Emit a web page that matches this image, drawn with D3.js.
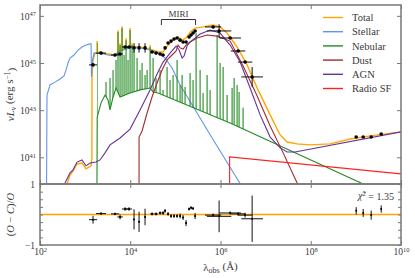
<!DOCTYPE html>
<html>
<head>
	<meta charset="UTF-8">
	<script src="https://d3js.org/d3.v7.min.js"></script>
	<style>
		body{ margin:0; background-color:#fff; }
		text{ font-family:"Liberation Serif","DejaVu Serif",serif; fill:#3a3a3a; }
	</style>
</head>
<body>
	<div class="chart"></div>
	<script type="text/javascript">
		// all curves as [log10 lambda (A), log10 nuLnu (erg/s)]
		var total = [[2.554,39.6],[2.665,40.25],[2.732,40.42],[2.820,40.72],[2.931,40.76],[3.020,40.51],[3.131,40.64],[3.150,40.97],[3.153,44.41],[3.175,45.13],[3.220,45.42],[3.330,45.47],[3.508,45.38],[3.663,45.34],[3.774,45.55],[3.996,45.68],[4.217,45.68],[4.439,45.59],[4.616,45.47],[4.727,45.47],[4.838,45.76],[4.949,45.97],[5.060,46.10],[5.149,45.97],[5.237,46.06],[5.326,46.31],[5.437,46.48],[5.614,46.53],[5.836,46.61],[5.991,46.53],[6.146,46.27],[6.368,45.68],[6.590,44.92],[6.812,43.94],[7.100,42.80],[7.322,41.95],[7.477,41.65],[7.698,41.57],[7.987,41.53],[8.430,41.57],[8.874,41.78],[9.317,41.91],[10.004,42.08]];
		var stellar = [[2.144,39.2],[2.155,43.64],[2.222,44.07],[2.333,44.19],[2.443,44.32],[2.532,44.45],[2.576,44.70],[2.621,45.00],[2.665,45.21],[2.754,45.34],[2.843,45.55],[2.931,45.68],[3.020,45.76],[3.109,45.81],[3.131,45.81],[3.142,44.41],[3.164,45.13],[3.197,45.42],[3.330,45.42],[3.508,45.34],[3.663,45.30],[3.774,45.51],[3.996,45.64],[4.217,45.64],[4.439,45.55],[4.616,45.42],[4.772,45.21],[4.927,44.79],[5.104,44.07],[5.481,42.88],[5.814,41.82],[6.479,39.75]];
		var nebCont = [[3.262,39.5],[3.268,42.71],[3.353,43.31],[3.441,43.64],[3.508,43.43],[3.552,43.01],[3.619,43.56],[3.685,43.94],[3.774,43.56],[3.885,43.64],[3.996,43.73],[4.217,43.86],[4.439,43.94],[4.506,43.77],[4.616,43.73],[6.213,42.46],[9.162,39.87],[9.4,39.6]];
		var nebLines = [[3.264,45.85],[3.463,44.19],[3.552,44.36],[3.619,44.70],[3.685,45.13],[3.729,46.31],[3.774,45.76],[3.818,46.48],[3.863,45.34],[3.907,45.97],[3.951,45.13],[3.996,46.40],[4.040,45.76],[4.084,45.55],[4.151,45.21],[4.217,44.70],[4.262,45.00],[4.328,44.49],[4.373,44.70],[4.439,45.68],[4.506,45.21],[4.572,44.36],[4.661,44.70],[4.727,43.86],[4.816,44.83],[4.882,44.28],[4.949,44.49],[5.038,45.13],[5.104,44.07],[5.149,44.49],[5.215,43.98],[5.326,44.58],[5.392,44.28],[5.459,46.27],[5.548,44.70],[5.614,43.73],[5.703,44.49],[5.769,43.86],[5.925,46.19],[5.991,45.00],[6.058,44.83],[6.146,43.64],[6.257,43.94],[6.302,44.36],[6.368,44.07],[6.412,43.77],[6.501,43.10]];
		var dust = [[4.195,39.5],[4.195,41.86],[4.262,42.12],[4.373,42.88],[4.483,43.56],[4.594,44.15],[4.705,44.70],[4.816,45.13],[4.927,45.34],[5.016,45.51],[5.060,45.76],[5.104,45.64],[5.171,45.59],[5.237,45.76],[5.326,45.89],[5.481,46.06],[5.703,46.19],[5.925,46.14],[6.213,45.93],[6.501,44.87],[6.812,43.60],[7.100,42.33],[7.388,41.19],[7.698,39.91],[7.765,39.6]];
		var agn = [[2.532,39.6],[2.554,39.91],[2.665,40.34],[2.732,40.47],[2.820,40.80],[2.931,40.89],[3.020,40.64],[3.109,40.76],[3.242,40.80],[3.330,40.89],[3.441,41.19],[3.552,41.53],[3.774,41.82],[3.996,42.20],[4.217,43.01],[4.439,43.86],[4.594,44.53],[4.727,45.04],[4.882,45.42],[5.016,45.72],[5.082,45.55],[5.149,45.21],[5.193,45.30],[5.259,45.72],[5.326,45.89],[5.548,46.23],[5.769,46.40],[5.991,46.27],[6.213,45.76],[6.435,45.04],[6.656,43.94],[6.878,42.80],[7.100,41.86],[7.322,41.40],[7.477,41.23],[7.654,41.23],[10.004,42.08]];
		var radioSF = [[6.202,39.5],[6.202,41.02],[10.004,40.30]];

		// observations
		var obsLam    = [3.175,3.353,3.663,3.774,3.885,3.973,4.084,4.195,4.328,4.483,4.572,4.661,4.727,4.772,4.838,4.905,4.971,5.038,5.104,5.171,5.237,5.304,5.348,5.392,5.437,5.836,5.969,6.213,6.390,6.545,6.701,9.007,9.162,9.339,9.561];
		var obsL      = [44.92,45.42,45.34,45.38,45.68,45.68,45.64,45.64,45.64,45.47,45.42,45.38,45.34,45.64,45.85,45.93,46.02,46.06,45.97,45.89,45.89,46.10,46.19,46.27,46.36,46.53,46.36,46.06,45.51,45.04,44.41,41.86,41.86,41.86,41.99];
		var obsLamErr = [0.09,0.11,0.09,0.06,0.07,0.07,0.02,0.02,0.02,0.04,0.04,0.03,0.03,0.02,0.02,0.02,0.02,0.02,0.02,0.02,0.02,0.02,0.02,0.02,0.02,0.18,0.27,0.24,0.16,0.16,0.24,0,0,0,0];
		var obsLErr   = [0.04,0.03,0.03,0.03,0.03,0.03,0.2,0.2,0.2,0.03,0.03,0.03,0.03,0.03,0.03,0.03,0.03,0.03,0.03,0.03,0.03,0.03,0.03,0.03,0.03,0.05,0.28,0.05,0.05,0.05,0.42,0.03,0.03,0.03,0.03];
		var obsRes    = [-0.17,0.03,0.02,-0.08,0.18,0.18,-0.16,-0.24,-0.08,0.02,0.02,0.05,0.05,0.12,0.02,-0.05,-0.05,-0.05,-0.05,-0.1,-0.28,0.18,0.22,0.2,-0.05,-0.02,-0.06,0.05,0.02,-0.02,-0.14,0.12,0.05,-0.02,0.18];
		var obsResErr = [0.13,0.04,0.04,0.08,0.06,0.06,0.33,0.33,0.27,0.05,0.05,0.05,0.06,0.06,0.06,0.06,0.06,0.06,0.08,0.08,0.1,0.05,0.05,0.05,0.1,0.05,0.52,0.05,0.05,0.08,0.76,0.12,0.13,0.15,0.12];

		var names  = ["Total","Stellar","Nebular","Dust","AGN","Radio SF"];
		var colors = ["#ffa500","#6495ed","#228b22","#a52a2a","#663399","#ff2020"];
		var xTicks = [1e2,1e4,1e6,1e8,1e10];
		var yTicks = [1e41,1e43,1e45,1e47];
		var miriRange = [4.9e4, 2.8e5];
		var chi2 = "1.35";

		var W = 415, H = 278;
		var l = 40, r = 401, t = 5, mid = 184, b = 245;
		var w = r - l, h1 = mid - t, h2 = b - mid;
		var p10 = function(v){ return Math.pow(10, v); };

		var x = d3.scaleLog().domain([1e2, 1e10]).range([0, w]);
		var y = d3.scaleLog().domain([p10(39.87), p10(47.46)]).range([h1, 0]);
		var yr = d3.scaleLinear().domain([-1, 1]).range([h2, 0]);

		var svg = d3.select("div.chart").append("svg").attr("width", W).attr("height", H);
		var defs = svg.append("defs");
		defs.append("clipPath").attr("id", "topClip").append("rect").attr("width", w).attr("height", h1);
		defs.append("clipPath").attr("id", "botClip").append("rect").attr("width", w).attr("height", h2);

		var px = function(d){ return x(p10(d[0])); };
		var py = function(d){ return y(p10(d[1])); };
		var line = d3.line().x(px).y(py);
		var above = d3.area().x(px).y0(-50).y1(py);
		defs.append("clipPath").attr("id", "nebClip").append("path").attr("d", above(nebCont));
		defs.append("clipPath").attr("id", "totClip").append("path").attr("d", above(total));

		var topG = svg.append("g").attr("transform", "translate(" + l + "," + t + ")");
		var plot = topG.append("g").attr("clip-path", "url(#topClip)");

		//total: continuum + line tips
		plot.append("path").attr("d", line(total)).attr("fill", "none").attr("stroke", colors[0]).attr("stroke-width", 1.4);
		plot.append("g").attr("clip-path", "url(#totClip)")
			.selectAll("line").data(nebLines).enter().append("line")
			.attr("x1", px).attr("x2", px)
			.attr("y1", function(d){ return y(p10(d[1] + 0.08)); })
			.attr("y2", h1)
			.attr("stroke", colors[0]).attr("stroke-width", 1.4);

		//stellar
		plot.append("path").attr("d", line(stellar)).attr("fill", "none").attr("stroke", colors[1]).attr("stroke-width", 1.1);

		//nebular
		plot.append("path").attr("d", line(nebCont)).attr("fill", "none").attr("stroke", colors[2]).attr("stroke-width", 1.1);
		plot.append("g").attr("clip-path", "url(#nebClip)")
			.selectAll("line").data(nebLines).enter().append("line")
			.attr("x1", px).attr("x2", px)
			.attr("y1", py).attr("y2", h1)
			.attr("stroke", colors[2]).attr("stroke-width", 1.1);

		//dust, agn, radio
		[[dust, 3], [agn, 4], [radioSF, 5]].forEach(function(s){
			plot.append("path").attr("d", line(s[0])).attr("fill", "none").attr("stroke", colors[s[1]]).attr("stroke-width", 1.1);
		});

		//observed points
		var pts = topG.append("g");
		obsLam.forEach(function(lv, i){
			var cx = x(p10(lv)), cy = y(p10(obsL[i]));
			if (obsLamErr[i] > 0)
				pts.append("line").attr("x1", x(p10(lv - obsLamErr[i]))).attr("x2", x(p10(lv + obsLamErr[i])))
					.attr("y1", cy).attr("y2", cy).attr("stroke", "#111").attr("stroke-width", 1);
			pts.append("line").attr("x1", cx).attr("x2", cx)
				.attr("y1", y(p10(obsL[i] - obsLErr[i]))).attr("y2", y(p10(obsL[i] + obsLErr[i])))
				.attr("stroke", "#111").attr("stroke-width", 1);
			pts.append("circle").attr("cx", cx).attr("cy", cy).attr("r", 1.8).attr("fill", "#000");
		});

		//MIRI bracket
		var m0 = x(miriRange[0]), m1 = x(miriRange[1]);
		topG.append("path").attr("d", "M" + m0 + ",20 V14.5 H" + m1 + " V20")
			.attr("fill", "none").attr("stroke", "#333").attr("stroke-width", 1);
		topG.append("text").attr("x", (m0 + m1) / 2).attr("y", 11.5).attr("text-anchor", "middle")
			.style("font-size", "9px").text("MIRI");

		//axes for top panel
		function supLabels(sel){
			sel.selectAll(".tick text").text(null).each(function(d){
				var s = d3.select(this);
				s.append("tspan").text("10");
				s.append("tspan").attr("dy", "-0.5em").style("font-size", "6.5px").text(Math.round(Math.log10(d)));
			});
		}
		function styleAxis(g){
			g.select(".domain").remove();
			g.selectAll(".tick line").attr("stroke", "#777");
			g.selectAll(".tick text").style("font-size", "9.5px").attr("fill", "#444");
		}
		var ax = topG.append("g").call(d3.axisLeft(y).tickValues(yTicks).tickSize(-4).tickPadding(4));
		styleAxis(ax); supLabels(ax);
		ax.selectAll(".tick text").attr("dy", "0.35em");
		styleAxis(topG.append("g").attr("transform", "translate(" + w + ",0)").call(d3.axisRight(y).tickValues(yTicks).tickSize(-4).tickFormat("")));
		styleAxis(topG.append("g").call(d3.axisTop(x).tickValues(xTicks).tickSize(-4).tickFormat("")));
		styleAxis(topG.append("g").attr("transform", "translate(0," + h1 + ")").call(d3.axisBottom(x).tickValues(xTicks).tickSize(-4).tickFormat("")));
		topG.append("rect").attr("width", w).attr("height", h1).attr("fill", "none").attr("stroke", "#777").attr("stroke-width", 1.5);

		//residual panel
		var bot = svg.append("g").attr("transform", "translate(" + l + "," + mid + ")");
		var rplot = bot.append("g").attr("clip-path", "url(#botClip)");
		rplot.append("line").attr("x1", 0).attr("x2", w).attr("y1", yr(0)).attr("y2", yr(0))
			.attr("stroke", colors[0]).attr("stroke-width", 1.4);
		obsLam.forEach(function(lv, i){
			var cx = x(p10(lv)), cy = yr(obsRes[i]);
			if (obsLamErr[i] > 0)
				rplot.append("line").attr("x1", x(p10(lv - obsLamErr[i]))).attr("x2", x(p10(lv + obsLamErr[i])))
					.attr("y1", cy).attr("y2", cy).attr("stroke", "#111").attr("stroke-width", 1);
			rplot.append("line").attr("x1", cx).attr("x2", cx)
				.attr("y1", yr(obsRes[i] - obsResErr[i])).attr("y2", yr(obsRes[i] + obsResErr[i]))
				.attr("stroke", "#111").attr("stroke-width", 1);
			rplot.append("circle").attr("cx", cx).attr("cy", cy).attr("r", 1).attr("fill", "#000");
		});

		var rTicks = d3.range(-1, 1.01, 0.25);
		var ar = bot.append("g").call(d3.axisLeft(yr).tickValues(rTicks).tickSize(-3).tickPadding(5)
			.tickFormat(function(d){ return d === 1 ? "1" : (d === -1 ? "\u22121" : ""); }));
		styleAxis(ar);
		styleAxis(bot.append("g").attr("transform", "translate(" + w + ",0)").call(d3.axisRight(yr).tickValues(rTicks).tickSize(-3).tickFormat("")));
		styleAxis(bot.append("g").call(d3.axisTop(x).tickValues(xTicks).tickSize(-4).tickFormat("")));
		var axb = bot.append("g").attr("transform", "translate(0," + h2 + ")").call(d3.axisBottom(x).tickValues(xTicks).tickSize(-4).tickPadding(3));
		styleAxis(axb); supLabels(axb);
		axb.selectAll(".tick text").attr("dy", "0.72em");
		bot.append("rect").attr("width", w).attr("height", h2).attr("fill", "none").attr("stroke", "#777").attr("stroke-width", 1.5);

		//chi2 label
		var ct = bot.append("text").attr("x", w - 7).attr("y", 15).attr("text-anchor", "end").style("font-size", "10px");
		ct.append("tspan").style("font-style", "italic").text("\u03c7\u0303");
		ct.append("tspan").attr("dy", "-0.45em").style("font-size", "7px").text("2");
		ct.append("tspan").attr("dy", "0.45em").text(" = " + chi2);

		//legend
		var leg = svg.append("g").attr("transform", "translate(323,17.5)");
		names.forEach(function(n, i){
			leg.append("line").attr("x1", 0).attr("x2", 20).attr("y1", i * 14.2).attr("y2", i * 14.2)
				.attr("stroke", colors[i]).attr("stroke-width", 1.4);
			leg.append("text").attr("x", 29).attr("y", i * 14.2 + 3.6).style("font-size", "10.5px").text(n);
		});

		//axis titles
		var yl = svg.append("text").attr("transform", "translate(14," + (t + h1 / 2) + ") rotate(-90)")
			.attr("text-anchor", "middle").style("font-size", "11px");
		yl.append("tspan").style("font-style", "italic").text("\u03bdL");
		yl.append("tspan").attr("dy", "0.3em").style("font-size", "8px").style("font-style", "italic").text("\u03bd");
		yl.append("tspan").attr("dy", "-0.3em").text(" (erg s");
		yl.append("tspan").attr("dy", "-0.45em").style("font-size", "7.5px").text("\u22121");
		yl.append("tspan").attr("dy", "0.45em").text(")");

		var rl = svg.append("text").attr("transform", "translate(14," + (mid + h2 / 2) + ") rotate(-90)")
			.attr("text-anchor", "middle").style("font-size", "10.5px");
		rl.append("tspan").text("(");
		rl.append("tspan").style("font-style", "italic").text("O");
		rl.append("tspan").text(" \u2212 ");
		rl.append("tspan").style("font-style", "italic").text("C");
		rl.append("tspan").text(")/");
		rl.append("tspan").style("font-style", "italic").text("O");

		var xl = svg.append("text").attr("x", l + w / 2).attr("y", 271).attr("text-anchor", "middle").style("font-size", "11px");
		xl.append("tspan").text("\u03bb");
		xl.append("tspan").attr("dy", "0.3em").style("font-size", "8px").text("obs");
		xl.append("tspan").attr("dy", "-0.3em").text(" (\u00c5)");
	</script>
</body>
</html>
